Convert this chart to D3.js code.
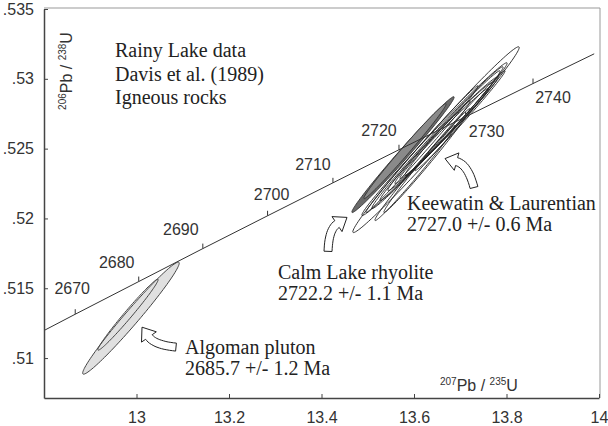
<!DOCTYPE html>
<html>
<head>
<meta charset="utf-8">
<title>Rainy Lake concordia</title>
<script src="https://d3js.org/d3.v7.min.js"></script>
<style>
  body { margin: 0; background: #fff; }
  .tick-label { font-family: "Liberation Sans", Arial, sans-serif; font-size: 16px; fill: #333; }
  .axis-label { font-family: "Liberation Sans", Arial, sans-serif; fill: #333; }
  .note { font-family: "Liberation Serif", "Times New Roman", serif; font-size: 20px; fill: #222; }
</style>
</head>
<body>
<script>
// concordia: age (Ma), 207Pb/235U, 206Pb/238U
var concAges = [2660, 2670, 2680, 2690, 2700, 2710, 2720, 2730, 2740, 2749];
var concX = [12.7316, 12.8675, 13.0048, 13.1434, 13.2834, 13.4247, 13.5675, 13.7116, 13.8573, 13.9896];
var concY = [0.51079, 0.51314, 0.51548, 0.51784, 0.52019, 0.52255, 0.52492, 0.52728, 0.52966, 0.53179];
var tickAges = [2670, 2680, 2690, 2700, 2710, 2720, 2730, 2740];

var xTicks = [13, 13.2, 13.4, 13.6, 13.8, 14];
var yTicks = [0.51, 0.515, 0.52, 0.525, 0.53, 0.535];

// error ellipses: [207/235, 206/238, sx, sy, rho]
var algoman = [
  [12.988, 0.51286, 0.1044, 0.004014, 0.981],
  [12.9816, 0.513107, 0.0652, 0.002543, 0.986]
];
var calmLake = [
  [13.5762, 0.524571, 0.11057, 0.004149, 0.9915],
  [13.5805, 0.524821, 0.08889, 0.003398, 0.9917]
];
var keewatin = [
  [13.6476, 0.525643, 0.1799, 0.006654, 0.9916],
  [13.6443, 0.525679, 0.15704, 0.005472, 0.9935],
  [13.6508, 0.525786, 0.14188, 0.005079, 0.9935],
  [13.6562, 0.525929, 0.12997, 0.004649, 0.9936],
  [13.6627, 0.526071, 0.11918, 0.004079, 0.9920],
  [13.6638, 0.526107, 0.10508, 0.003614, 0.9917],
  [13.6649, 0.526071, 0.09533, 0.003221, 0.9919],
  [13.6173, 0.524964, 0.12125, 0.004539, 0.9955],
  [13.6281, 0.524143, 0.09321, 0.003719, 0.9927],
  [13.6508, 0.52575, 0.0705, 0.002686, 0.9898],
  [13.6995, 0.527, 0.09745, 0.003576, 0.9945],
  [13.6022, 0.52325, 0.0867, 0.0034, 0.9915]
];

var titleLines = ["Rainy Lake data", "Davis et al. (1989)", "Igneous rocks"];

var notes = [
  {lines: ["Algoman pluton", "2685.7 +/- 1.2 Ma"], x: 13.1049, y: 0.510286},
  {lines: ["Calm Lake rhyolite", "2722.2 +/- 1.1 Ma"], x: 13.3059, y: 0.515643},
  {lines: ["Keewatin & Laurentian", "2727.0 +/- 0.6 Ma"], x: 13.5849, y: 0.520571}
];
var arrows = [
  {from: [13.0854, 0.510786], to: [13.0119, 0.512214], bend: -9},
  {from: [13.4141, 0.517643], to: [13.4551, 0.520071], bend: -10},
  {from: [13.7297, 0.522214], to: [13.6670, 0.524286], bend: 12}
];

var W = 608, H = 426;
var pLeft = 44, pRight = 599, pTop = 9, pBottom = 398;

var x = d3.scaleLinear().domain([12.8, 14]).range([pLeft, pRight]);
var y = d3.scaleLinear().domain([0.50714, 0.535]).range([pBottom, pTop]);

var svg = d3.select("body").append("svg")
  .attr("width", W)
  .attr("height", H);

svg.append("defs").append("clipPath").attr("id", "plot")
  .append("rect").attr("x", pLeft).attr("y", pTop - 1)
  .attr("width", pRight - pLeft + 1).attr("height", pBottom - pTop + 1);

// frame: light top/right
svg.append("path")
  .attr("d", "M" + pLeft + "," + (pTop - 1) + "H600V" + pBottom)
  .attr("fill", "none").attr("stroke", "#999").attr("stroke-width", 1);

// concordia
var concPts = concAges.map(function(a, i) { return [concX[i], concY[i]]; });
var line = d3.line()
  .x(function(d) { return x(d[0]); })
  .y(function(d) { return y(d[1]); })
  .curve(d3.curveMonotoneX);

var plot = svg.append("g").attr("clip-path", "url(#plot)");

// ellipse path from covariance terms
function ellipsePath(e) {
  var pts = d3.range(0, 121).map(function(i) {
    var t = i / 120 * 2 * Math.PI;
    var ex = e[0] + e[2] * Math.cos(t);
    var ey = e[1] + e[3] * (e[4] * Math.cos(t) + Math.sqrt(1 - e[4] * e[4]) * Math.sin(t));
    return [x(ex), y(ey)];
  });
  return d3.line().curve(d3.curveLinearClosed)(pts);
}

plot.selectAll(".alg").data(algoman).enter().append("path")
  .attr("class", "alg")
  .attr("d", ellipsePath)
  .attr("fill", function(d, i) { return i == 0 ? "#e0e0e0" : "none"; })
  .attr("stroke", "#444").attr("stroke-width", 1);

plot.selectAll(".kee").data(keewatin).enter().append("path")
  .attr("class", "kee")
  .attr("d", ellipsePath)
  .attr("fill", "none")
  .attr("stroke", "#222").attr("stroke-width", 0.9);

plot.selectAll(".calm").data(calmLake).enter().append("path")
  .attr("class", "calm")
  .attr("d", ellipsePath)
  .attr("fill", function(d, i) { return i == 0 ? "#6a6a6a" : "#8a8a8a"; })
  .attr("stroke", "#333").attr("stroke-width", 0.9);

plot.append("path")
  .datum(concPts)
  .attr("d", line)
  .attr("fill", "none")
  .attr("stroke", "#333")
  .attr("stroke-width", 1);

// age ticks on concordia
function concAt(age) {
  var i = concAges.indexOf(age);
  return [x(concX[i]), y(concY[i])];
}
// label placement relative to tick (px)
var labelOff = {2670: [-3, -26], 2680: [-22, -19], 2690: [-22, -19], 2700: [4, -22],
  2710: [-20, -19], 2720: [-20, -20], 2730: [21, 14], 2740: [20, 14]};

tickAges.forEach(function(a) {
  var p = concAt(a);
  svg.append("line")
    .attr("x1", p[0]).attr("x2", p[0])
    .attr("y1", p[1]).attr("y2", p[1] - 5)
    .attr("stroke", "#333").attr("stroke-width", 1);
  svg.append("text")
    .attr("class", "tick-label")
    .attr("x", p[0] + labelOff[a][0])
    .attr("y", p[1] + labelOff[a][1])
    .attr("dy", "0.36em")
    .attr("text-anchor", "middle")
    .text(a);
});

// axes (ticks inward)
var xAxis = svg.append("g")
  .attr("transform", "translate(0," + pBottom + ")")
  .call(d3.axisBottom(x).tickValues(xTicks).tickSizeInner(-4).tickSizeOuter(0).tickPadding(14)
    .tickFormat(function(d) { return String(d); }));
var yAxis = svg.append("g")
  .attr("transform", "translate(" + pLeft + ",0)")
  .call(d3.axisLeft(y).tickValues(yTicks).tickSizeInner(-4).tickSizeOuter(0).tickPadding(10)
    .tickFormat(function(d) { return String(d).replace(/^0/, ""); }));

[xAxis, yAxis].forEach(function(g) {
  g.select(".domain").attr("stroke", "#444").attr("stroke-width", 1.5);
  g.selectAll(".tick line").attr("stroke", "#444");
  g.selectAll(".tick text").attr("class", "tick-label").attr("font-family", null).attr("font-size", null);
});

// axis labels with mass numbers
function isoLabel(sel, m1, e1, m2, e2, big, small) {
  sel.append("tspan").attr("font-size", small).attr("dy", -6).text(m1);
  sel.append("tspan").attr("font-size", big).attr("dy", 6).text(e1);
  sel.append("tspan").attr("font-size", big).text("  /  ");
  sel.append("tspan").attr("font-size", small).attr("dy", -6).text(m2);
  sel.append("tspan").attr("font-size", big).attr("dy", 6).text(e2);
}
isoLabel(svg.append("text").attr("class", "axis-label")
  .attr("x", 440).attr("y", 391), "207", "Pb", "235", "U", 16, 10);
isoLabel(svg.append("text").attr("class", "axis-label")
  .attr("text-anchor", "middle")
  .attr("transform", "translate(72,71) rotate(-90)"), "206", "Pb", "238", "U", 16, 10);

// title block
svg.append("g").selectAll("text").data(titleLines).enter().append("text")
  .attr("class", "note")
  .attr("x", 115)
  .attr("y", function(d, i) { return 57 + i * 23.5; })
  .text(function(d) { return d; });

// sample labels
notes.forEach(function(n) {
  n.lines.forEach(function(t, i) {
    svg.append("text")
      .attr("class", "note")
      .attr("x", x(n.x))
      .attr("y", y(n.y) + i * 21)
      .text(t);
  });
});

// hollow curved arrows
function arrowPath(a) {
  var p0 = [x(a.from[0]), y(a.from[1])], tip = [x(a.to[0]), y(a.to[1])];
  var dx = tip[0] - p0[0], dy = tip[1] - p0[1], L = Math.hypot(dx, dy);
  var u = [dx / L, dy / L], n = [-u[1], u[0]];
  var c = [p0[0] + u[0] * L * 0.5 + n[0] * a.bend, p0[1] + u[1] * L * 0.5 + n[1] * a.bend];
  var hl = 12, hw = 9, w = 4;
  var dl = Math.hypot(tip[0] - c[0], tip[1] - c[1]);
  var dir = [(tip[0] - c[0]) / dl, (tip[1] - c[1]) / dl];
  var b = [tip[0] - dir[0] * hl, tip[1] - dir[1] * hl];
  var lft = [], rgt = [];
  for (var i = 0; i <= 14; i++) {
    var t = i / 14;
    var px = (1 - t) * (1 - t) * p0[0] + 2 * t * (1 - t) * c[0] + t * t * b[0];
    var py = (1 - t) * (1 - t) * p0[1] + 2 * t * (1 - t) * c[1] + t * t * b[1];
    var tx = 2 * (1 - t) * (c[0] - p0[0]) + 2 * t * (b[0] - c[0]);
    var ty = 2 * (1 - t) * (c[1] - p0[1]) + 2 * t * (b[1] - c[1]);
    var tl = Math.hypot(tx, ty);
    var nx = -ty / tl, ny = tx / tl;
    lft.push([px + nx * w, py + ny * w]);
    rgt.push([px - nx * w, py - ny * w]);
  }
  var nb = [-dir[1], dir[0]];
  var pts = lft.concat([[b[0] + nb[0] * hw, b[1] + nb[1] * hw], tip,
    [b[0] - nb[0] * hw, b[1] - nb[1] * hw]], rgt.reverse());
  return "M" + pts.map(function(p) { return p[0].toFixed(1) + "," + p[1].toFixed(1); }).join("L") + "Z";
}

svg.selectAll(".arrow").data(arrows).enter().append("path")
  .attr("class", "arrow")
  .attr("d", arrowPath)
  .attr("fill", "#fff")
  .attr("stroke", "#222")
  .attr("stroke-width", 1)
  .attr("stroke-linejoin", "miter");
</script>
</body>
</html>
